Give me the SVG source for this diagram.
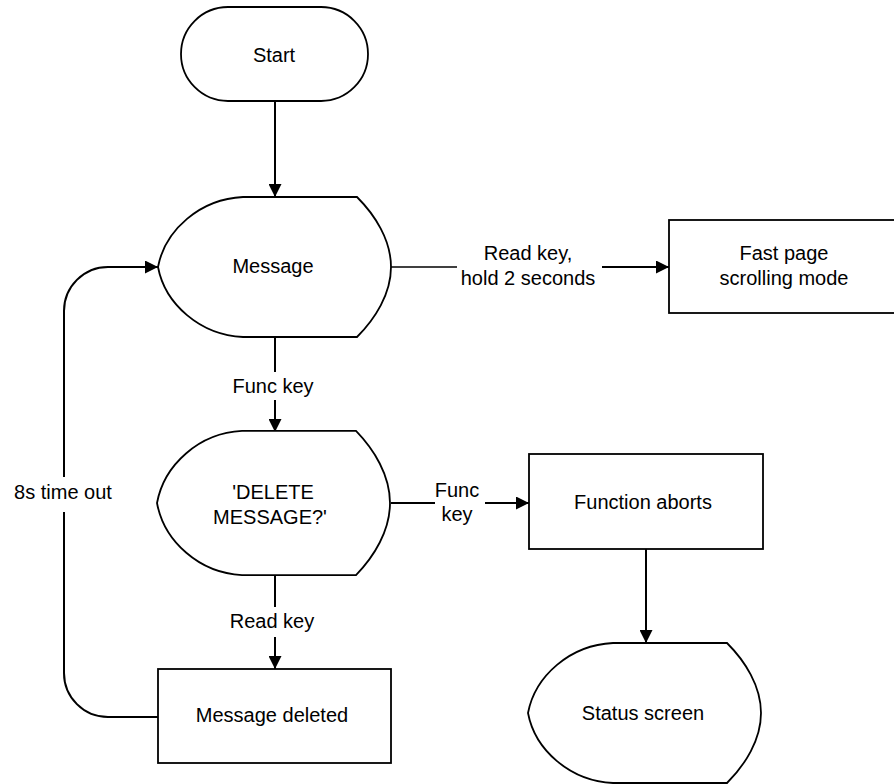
<svg xmlns="http://www.w3.org/2000/svg" width="894" height="784" viewBox="0 0 894 784">
  <style>
    .shape { fill: #fff; stroke: #000; stroke-width: 1.8; }
    .edge { fill: none; stroke: #000; stroke-width: 2; }
    .thin { stroke-width: 1.3; }
    text { font-family: "Liberation Sans", Arial, sans-serif; font-size: 20px; fill: #000; text-anchor: middle; }
  </style>
  <defs>
    <!-- display symbol, origin at the left point -->
    <path id="display" d="M85,-70 H199 C217,-52 233,-27 233,0 C233,27 217,52 199,70 H85 C42,68 7,37 0,0 C7,-37 42,-68 85,-70 Z"/>
    <marker id="arrow" markerUnits="userSpaceOnUse" markerWidth="13" markerHeight="13" refX="13" refY="6.5" orient="auto">
      <path d="M0,0 L13,6.5 L0,13 Z" fill="#000"/>
    </marker>
  </defs>

  <g id="connectors">
    <line class="edge" x1="275" y1="101" x2="275" y2="197" marker-end="url(#arrow)"/>
    <!-- Message -> Fast page scrolling mode -->
    <line class="edge thin" x1="391" y1="267" x2="457" y2="267"/>
    <line class="edge" x1="602" y1="267" x2="669" y2="267" marker-end="url(#arrow)"/>
    <text x="528" y="260">Read key,</text>
    <text x="528" y="285">hold 2 seconds</text>
    <!-- Message -> DELETE MESSAGE? -->
    <line class="edge" x1="275" y1="337" x2="275" y2="372"/>
    <line class="edge" x1="275" y1="400" x2="275" y2="432" marker-end="url(#arrow)"/>
    <text x="273" y="393">Func key</text>
    <!-- DELETE MESSAGE? -> Function aborts -->
    <line class="edge" x1="391" y1="503" x2="435" y2="503"/>
    <line class="edge" x1="485" y1="503" x2="529" y2="503" marker-end="url(#arrow)"/>
    <text x="457" y="497">Func</text>
    <text x="457" y="521">key</text>
    <!-- DELETE MESSAGE? -> Message deleted -->
    <line class="edge" x1="275" y1="574" x2="275" y2="607"/>
    <line class="edge" x1="275" y1="637" x2="275" y2="669" marker-end="url(#arrow)"/>
    <text x="272" y="628">Read key</text>
    <!-- Function aborts -> Status screen -->
    <line class="edge" x1="646" y1="549" x2="646" y2="643" marker-end="url(#arrow)"/>
    <!-- timeout loop back to Message -->
    <path class="edge" d="M158,717 H108 A44,44 0 0 1 64,673 V512"/>
    <path class="edge" d="M64,477 V311 A44,44 0 0 1 108,267 H158" marker-end="url(#arrow)"/>
    <text x="63" y="499">8s time out</text>
  </g>

  <g id="start">
    <rect class="shape" x="181" y="7" width="187" height="94" rx="47" ry="47"/>
    <text x="274" y="62">Start</text>
  </g>

  <g id="message">
    <use href="#display" class="shape" transform="translate(158,267)"/>
    <text x="273" y="273">Message</text>
  </g>

  <g id="fast-page">
    <rect class="shape" x="669" y="220" width="240" height="93"/>
    <text x="784" y="260">Fast page</text>
    <text x="784" y="285">scrolling mode</text>
  </g>

  <g id="delete-message">
    <use href="#display" class="shape" transform="translate(157,503) scale(1,1.03)"/>
    <text x="273" y="499">'DELETE</text>
    <text x="270" y="524">MESSAGE?'</text>
  </g>

  <g id="function-aborts">
    <rect class="shape" x="529" y="454" width="234" height="95"/>
    <text x="643" y="509">Function aborts</text>
  </g>

  <g id="message-deleted">
    <rect class="shape" x="158" y="669" width="233" height="94"/>
    <text x="272" y="722">Message deleted</text>
  </g>

  <g id="status-screen">
    <use href="#display" class="shape" transform="translate(528,713)"/>
    <text x="643" y="720">Status screen</text>
  </g>
</svg>
